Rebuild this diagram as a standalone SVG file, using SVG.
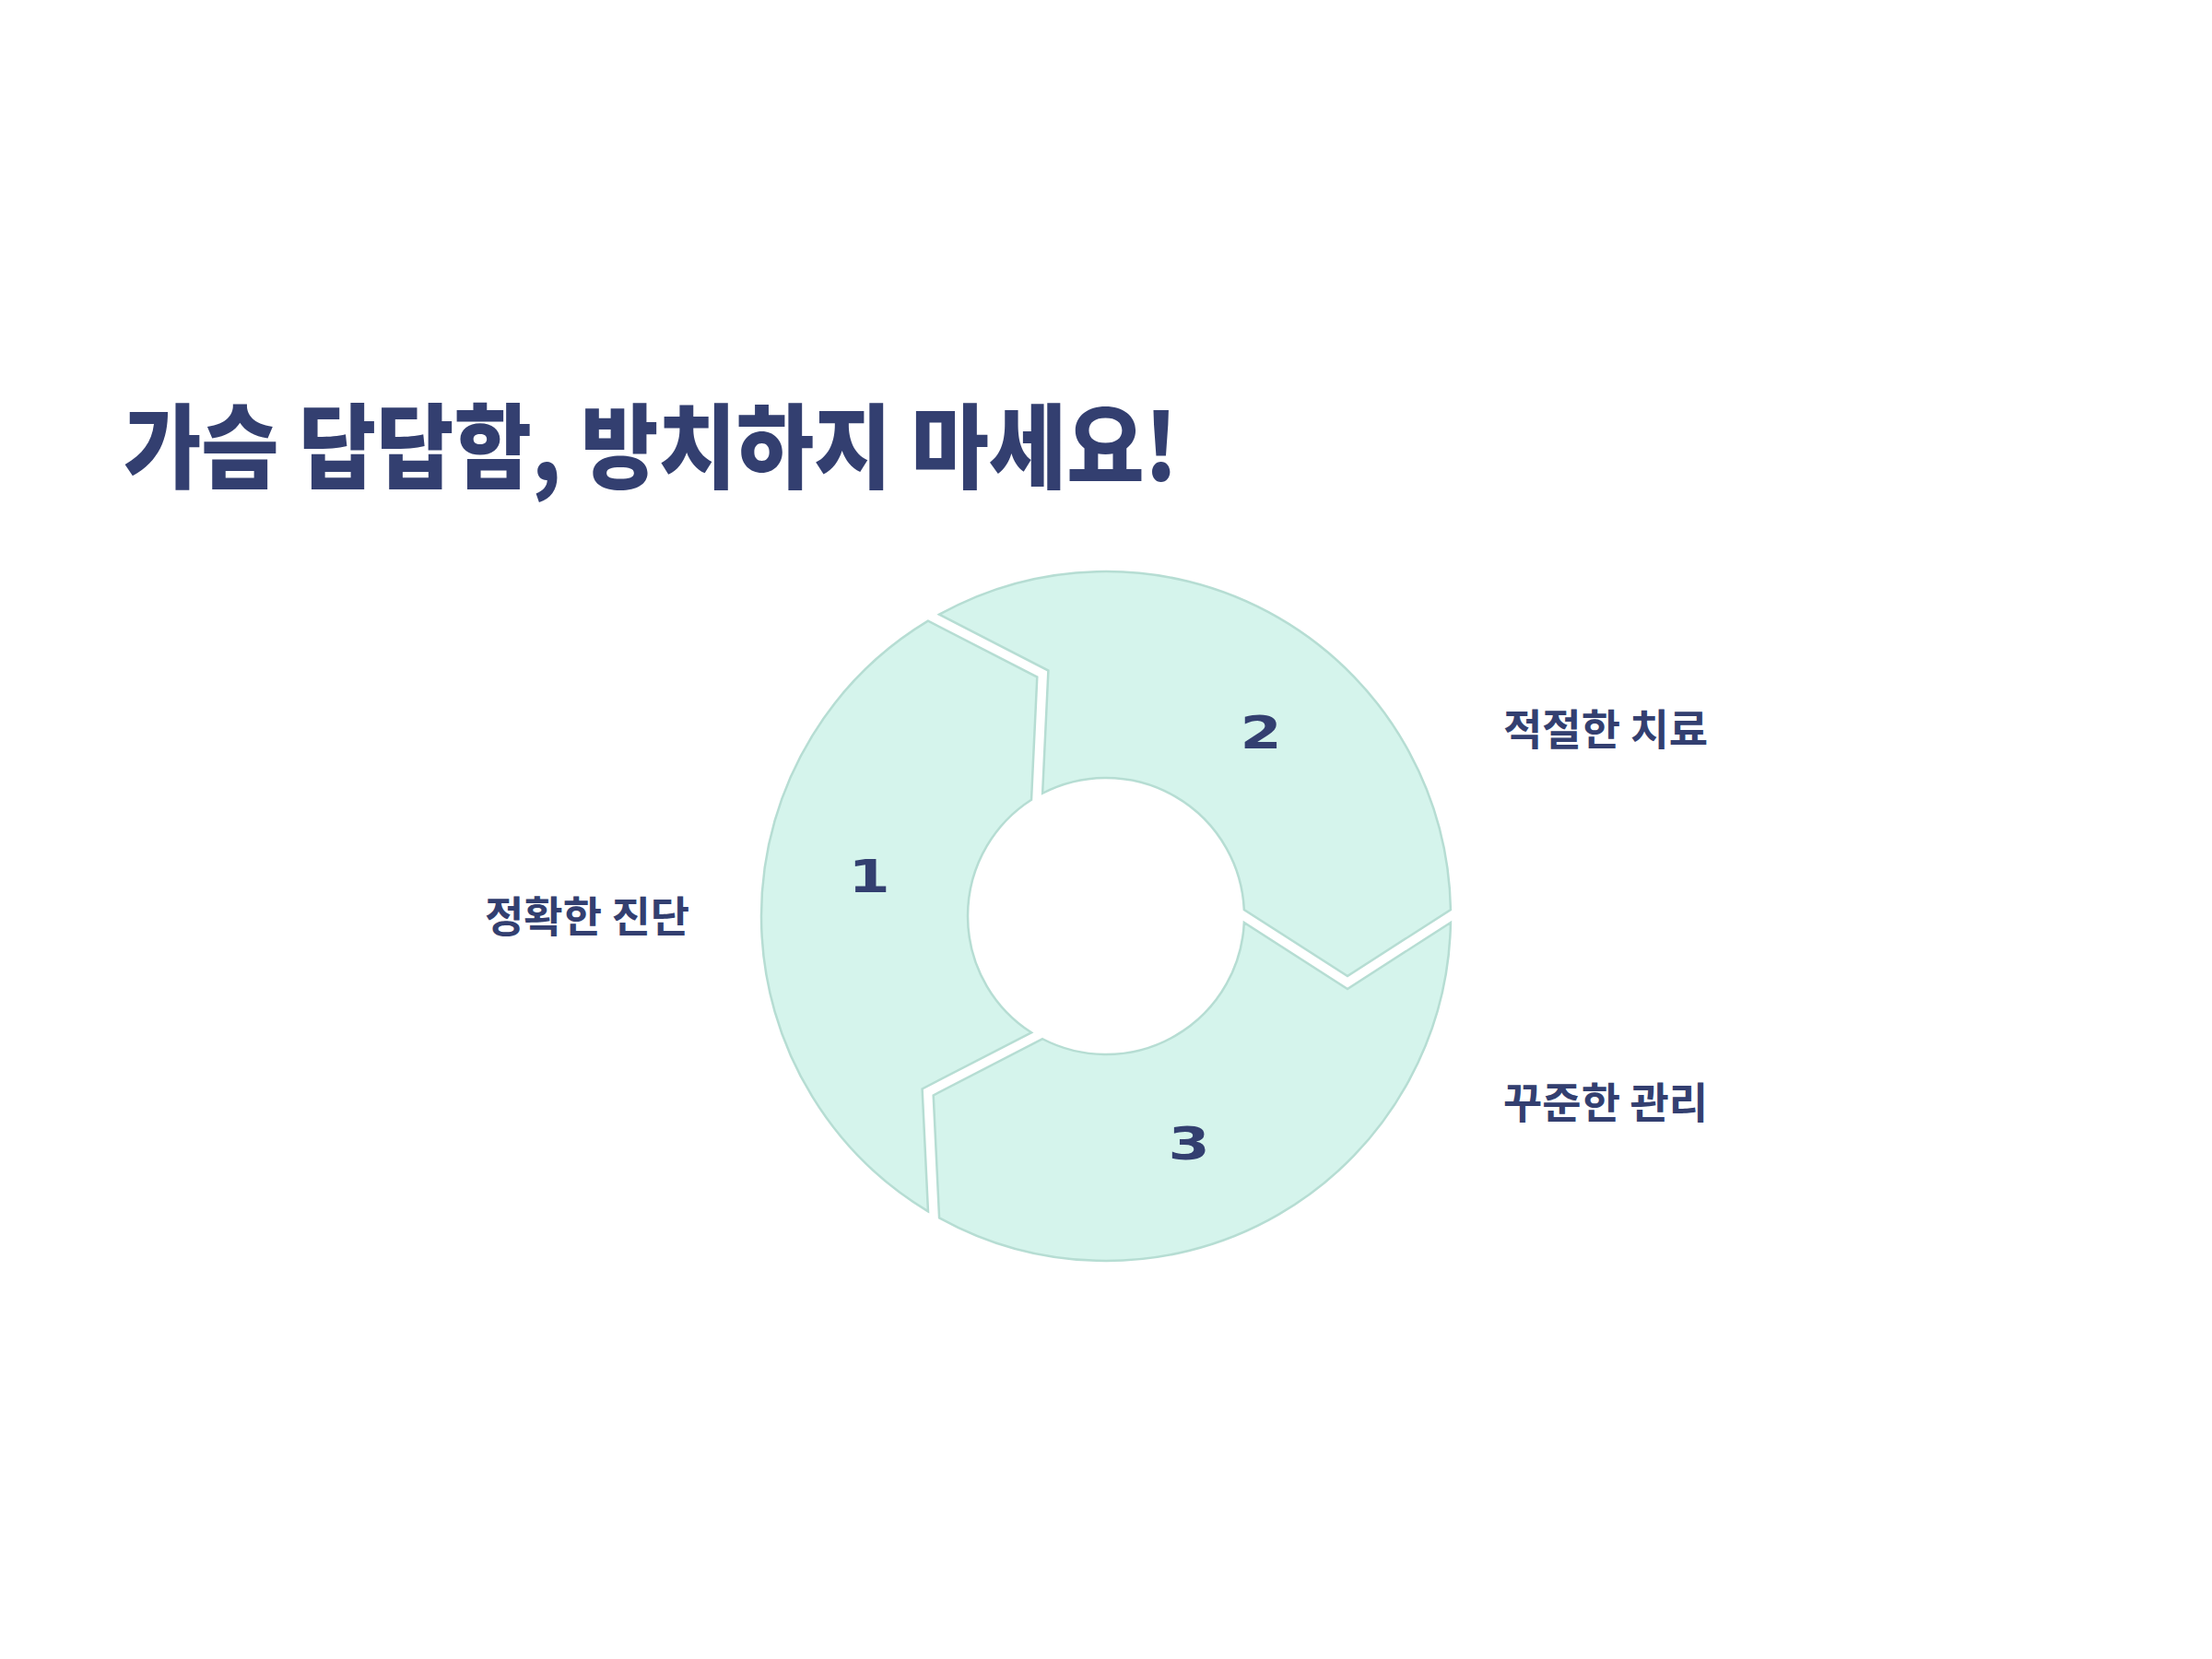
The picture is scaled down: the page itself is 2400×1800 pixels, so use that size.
<svg xmlns="http://www.w3.org/2000/svg" width="2400" height="1800" viewBox="0 0 2400 1800">
  <style>
    .seg { fill: #d5f4ec; stroke: #b6ddd3; stroke-width: 2.5; stroke-linejoin: miter; }
    .num { font-family: "DejaVu Sans", "Liberation Sans", sans-serif; font-weight: bold; font-size: 50px; fill: #333f70; text-anchor: middle; }
    .lbl { font-family: "Noto Sans CJK KR", "Noto Sans", sans-serif; font-weight: bold; font-size: 46px; fill: #333f70; }
    .title { font-family: "Noto Sans CJK KR", "Noto Sans", sans-serif; font-weight: 900; font-size: 100px; fill: #333f70; }
  </style>
  <rect width="2400" height="1800" fill="#ffffff"/>

  <g id="title">
    <text class="title" x="134" y="522" textLength="1144" lengthAdjust="spacingAndGlyphs">가슴 답답함, 방치하지 마세요!</text>
  </g>

  <g id="step1">
    <path class="seg" d="M 1006.97,1314.33 A 374 374 0 0 1 1006.97,673.67 L 1125.29,734.61 L 1119.02,867.74 A 150 150 0 0 0 1119.02,1120.26 L 1000.59,1181.39 Z"/>
    <text class="num" transform="translate(943,968) scale(1.3,1)">1</text>
  </g>

  <g id="step2">
    <path class="seg" d="M 1019.09,666.67 A 374 374 0 0 1 1573.93,987 L 1462,1059 L 1349.84,987 A 150 150 0 0 0 1131.14,860.74 L 1137.41,727.61 Z"/>
    <text class="num" transform="translate(1368,812) scale(1.3,1)">2</text>
  </g>

  <g id="step3">
    <path class="seg" d="M 1573.93,1001 A 374 374 0 0 1 1019.09,1321.33 L 1012.71,1188.39 L 1131.14,1127.26 A 150 150 0 0 0 1349.84,1001 L 1462,1073 Z"/>
    <text class="num" transform="translate(1290,1258) scale(1.3,1)">3</text>
  </g>

  <g id="label1">
    <text class="lbl" x="526" y="1011">정확한 진단</text>
  </g>
  <g id="label2">
    <text class="lbl" x="1631" y="808">적절한 치료</text>
  </g>
  <g id="label3">
    <text class="lbl" x="1631" y="1213">꾸준한 관리</text>
  </g>

  <g id="connectors"></g>
</svg>
